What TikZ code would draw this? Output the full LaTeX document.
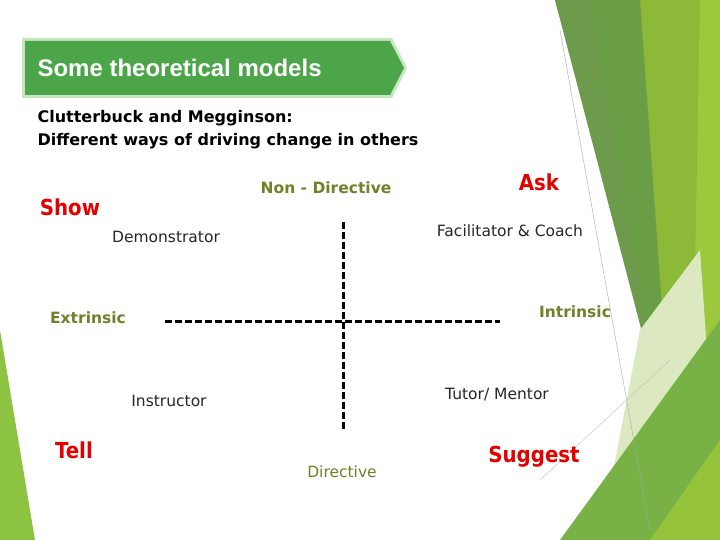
\documentclass[tikz,border=0pt]{standalone}
\usepackage{fontspec}
\setmainfont{DejaVu Sans}
\newfontfamily\arialf{Liberation Sans}
\newfontfamily\condf{DejaVu Sans Condensed}
\begin{document}
\begin{tikzpicture}[x=1pt,y=-1pt,
  lbl/.style={font=\fontsize{15.5}{18}\selectfont, text=black!85},
  redlbl/.style={font=\condf\bfseries\fontsize{22}{26}\selectfont, text=red!90!black},
  olive/.style={font=\bfseries\fontsize{15.5}{18}\selectfont, text={rgb,255:red,110;green,130;blue,40}},
  axis/.style={line width=3pt, dash pattern=on 7pt off 3pt}]
\fill[white] (0,0) rectangle (720,540);
\useasboundingbox (0,0) rectangle (720,540);
% decoration
\fill[fill={rgb,255:red,140;green,185;blue,55}] (640,0) -- (720,0) -- (720,540) -- (650,540) -- cycle;
\fill[fill={rgb,255:red,155;green,200;blue,60}] (700,0) -- (720,0) -- (720,540) -- (690,540) -- cycle;
\fill[fill={rgb,255:red,106;green,158;blue,70}] (555,0) -- (640,0) -- (670,420) -- cycle;
\fill[fill={rgb,255:red,110;green,155;blue,75}] (555,0) -- (590,0) -- (665,420) -- cycle;
\fill[fill={rgb,255:red,220;green,233;blue,192}] (600,540) -- (640,330) -- (700,250) -- (720,540) -- cycle;
\fill[fill={rgb,255:red,120;green,178;blue,70}] (560,540) -- (720,320) -- (720,540) -- cycle;
\fill[fill={rgb,255:red,150;green,195;blue,60}] (650,540) -- (720,440) -- (720,540) -- cycle;
\fill[fill={rgb,255:red,140;green,195;blue,65}] (0,330) -- (35,540) -- (0,540) -- cycle;
\draw[gray!70, line width=0.4pt] (560,30) -- (650,530);
\draw[gray!50, line width=0.4pt] (540,480) -- (670,360);
% title
\fill[fill={rgb,255:red,200;green,230;blue,190}] (22,38) -- (392,38) -- (407,68) -- (392,98) -- (22,98) -- cycle;
\fill[fill={rgb,255:red,76;green,166;blue,73}] (25,41) -- (390,41) -- (404,68) -- (390,95) -- (25,95) -- cycle;
\node[anchor=west, text=white, font=\arialf\bfseries\fontsize{24}{28}\selectfont] (title) at (34,68) {Some theoretical models};
\node[anchor=west, align=left, font=\bfseries\fontsize{16}{23}\selectfont] (sub) at (34,130) {Clutterbuck and Megginson:\\Different ways of driving change in others};
% axes
\coordinate (vt) at (343,222); \coordinate (vb) at (343,432);
\coordinate (hl) at (165,321); \coordinate (hr) at (500,321);
\draw[axis] (vt) -- (vb);
\draw[axis] (hl) -- (hr);
% labels
\node[redlbl] (show) at (70,207) {Show};
\node[redlbl] (ask) at (539,182) {Ask};
\node[redlbl] (tell) at (74,450) {Tell};
\node[redlbl] (sugg) at (534,457) {Suggest};
\node[olive] (nondir) at (326,188) {Non - Directive};
\node[olive] (extr) at (88,318) {Extrinsic};
\node[olive] (intr) at (575,312) {Intrinsic};
\node[olive, font=\fontsize{15.5}{18}\selectfont] (dir) at (342,472) {Directive};
\node[lbl] (demo) at (166,237) {Demonstrator};
\node[lbl] (fac) at (510,231) {Facilitator \& Coach};
\node[lbl] (instr) at (169,401) {Instructor};
\node[lbl] (tutor) at (497,395) {Tutor/ Mentor};
\end{tikzpicture}
\end{document}
